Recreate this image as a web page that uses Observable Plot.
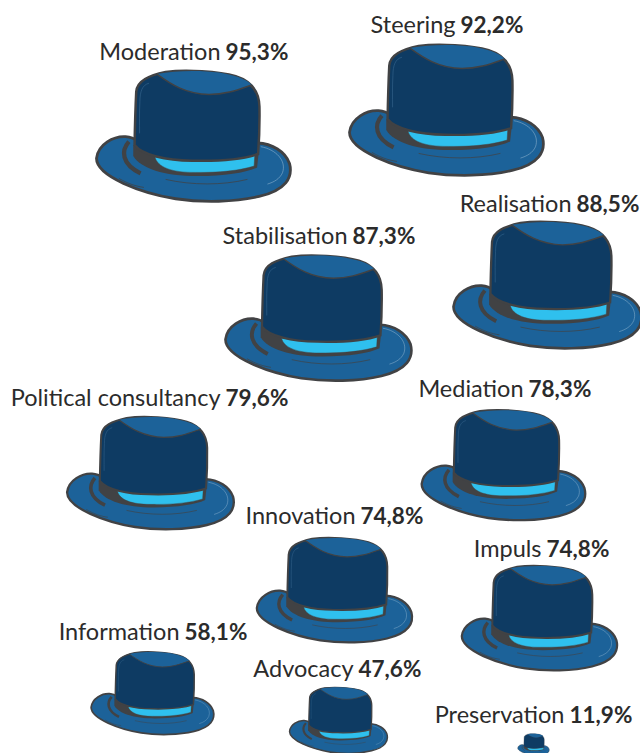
<!DOCTYPE html>
<html>
<head>
<meta charset="utf-8">
<style>html,body{margin:0;padding:0;background:#fff}svg{display:block}</style>
<script src="https://cdn.jsdelivr.net/npm/d3@7"></script>
<script src="https://cdn.jsdelivr.net/npm/@observablehq/plot@0.6"></script>
</head>
<body>
<div id="chart"></div>
<script>
const roles = ["Moderation","Steering","Realisation","Stabilisation","Political consultancy","Mediation","Innovation","Impuls","Information","Advocacy","Preservation"];
const shares = [95.3,92.2,88.5,87.3,79.6,78.3,74.8,74.8,58.1,47.6,11.9];
const shareLabels = ["95,3%","92,2%","88,5%","87,3%","79,6%","78,3%","74,8%","74,8%","58,1%","47,6%","11,9%"];
const hatX = [193,446,547,318,150,503,334,539,152,338,533];
const hatY = [136,110,285,318,473,465,590,618,693,720,744];
const labelX = [225,460,576,352,225,528,360,546,184,358,569];
const labelY = [59,32,211,243,405,396,523,556,639,676,722];

const rows = roles.map((role,i)=>({role,share:shares[i],label:shareLabels[i],hx:hatX[i],hy:hatY[i],lx:labelX[i],ly:labelY[i]}));

const shape = d => ({draw(ctx,size){
  const k = Math.sqrt(size/Math.PI)/293.5;
  const t = d.match(/[MCLZ]|-?[\d.]+/g);
  let i=0;
  const X=()=>(+t[i++]-323.5)*k, Y=()=>(+t[i++]-319.5)*k;
  while(i<t.length){
    const c=t[i++];
    if(c==="M"){const x=X(),y=Y();ctx.moveTo(x,y);}
    else if(c==="L"){const x=X(),y=Y();ctx.lineTo(x,y);}
    else if(c==="C"){const a=X(),b=Y(),e=X(),f=Y(),g=X(),h=Y();ctx.bezierCurveTo(a,b,e,f,g,h);}
    else if(c==="Z"){ctx.closePath();}
  }
}});

const brim = shape("M33,385 C38,342 85,318 120,320 C135,321 147,326 157,334 L515,339 C560,341 598,365 611,400 C622,442 600,480 520,499 C450,516 350,518 270,506 C170,490 33,440 33,385 Z");
const under = shape("M143,345 L518,375 L514,412 C480,428 420,437 335,438 C235,438 165,415 143,378 Z");
const band = shape("M208,380 C280,392 420,392 507,376 L505,408 C460,422 400,428 330,427 C260,428 215,412 208,380 Z");
const crown = shape("M147,345 C148,290 150,225 152,185 C155,152 190,137 240,126 C300,118 400,124 450,139 C500,155 520,190 521,230 C522,280 520,330 517,372 C470,388 400,394 320,392 C240,391 170,375 147,345 Z");
const top_ = shape("M213,132 C255,163 300,192 370,194 C420,194 455,180 498,165 C480,145 440,135 400,128 C340,120 270,122 213,132 Z");
const topEdge = shape("M213,132 C255,163 300,192 370,194 C420,194 455,180 498,165");
const groove = shape("M130,335 C106,362 108,402 165,430");
const bottomLine = shape("M240,448 C320,466 410,466 485,448 M100,445 C130,462 150,468 175,472");
const sheen = shape("M525,350 C570,358 603,392 590,428 C582,446 565,456 545,462");
const crownSheen = shape("M190,160 C170,165 163,185 163,215 C161,250 162,280 162,310");

const sw = f => d => d.share*f;
const dotOpts = (symbol,o) => ({x:"hx",y:"hy",r:"share",symbol,...o});
const text = {fontFamily:"Lato, sans-serif",fill:"#2b2b2b",lineAnchor:"bottom",stroke:null};

const chart = Plot.plot({
  width:640,height:753,margin:0,
  x:{domain:[0,640],range:[0,640],axis:null},
  y:{domain:[0,753],range:[0,753],axis:null},
  r:{type:"linear",domain:[11.9,47.6,58.1,74.8,79,87.3,92.2,95.3],range:[16,49.5,62,78.5,83.5,94,98,98]},
  style:{background:"#fff"},
  marks:[
    Plot.dot(rows,dotOpts(brim,{fill:"#1c6299",stroke:"#414244",strokeWidth:sw(0.03)})),
    Plot.dot(rows,dotOpts(groove,{fill:"none",stroke:"#414244",strokeWidth:sw(0.045)})),
    Plot.dot(rows,dotOpts(bottomLine,{fill:"none",stroke:"#414244",strokeWidth:sw(0.008)})),
    Plot.dot(rows,dotOpts(sheen,{fill:"none",stroke:"#8fb4d0",strokeWidth:sw(0.006)})),
    Plot.dot(rows,dotOpts(under,{fill:"#414244"})),
    Plot.dot(rows,dotOpts(band,{fill:"#2fc0ee",stroke:"#414244",strokeWidth:sw(0.005)})),
    Plot.dot(rows,dotOpts(crown,{fill:"#0e3b63",stroke:"#414244",strokeWidth:sw(0.026)})),
    Plot.dot(rows,dotOpts(top_,{fill:"#1c6299"})),
    Plot.dot(rows,dotOpts(topEdge,{fill:"none",stroke:"#414244",strokeWidth:sw(0.016)})),
    Plot.dot(rows,dotOpts(crownSheen,{fill:"none",stroke:"#3a6a92",strokeWidth:sw(0.006)})),
    Plot.text(rows,{x:d=>d.lx-5,y:"ly",text:"role",textAnchor:"end",fontSize:23.5,...text}),
    Plot.text(rows,{x:"lx",y:"ly",text:"label",textAnchor:"start",fontSize:22.5,fontWeight:"bold",...text})
  ]
});
document.getElementById("chart").append(chart);
</script>
</body>
</html>
